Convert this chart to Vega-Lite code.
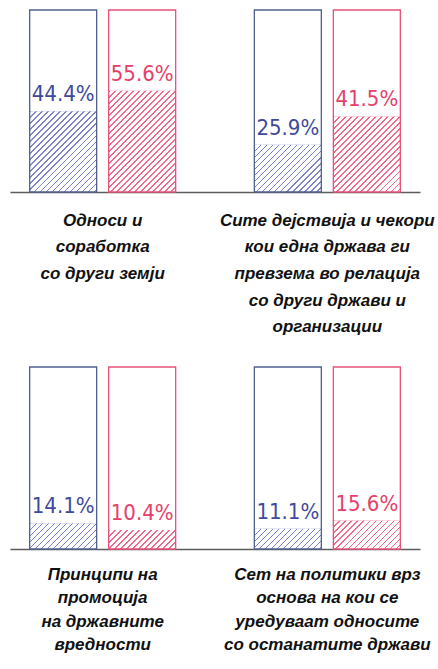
{
  "$schema": "https://vega.github.io/schema/vega-lite/v6.json",
  "padding": {"left": 10, "top": 9, "right": 0, "bottom": 0},
  "spacing": 175,
  "bounds": "flush",
  "config": {"view": {"stroke": null}},
  "data": {"values": [
    {"row": 1, "cat": "Односи и\nсоработка\nсо други земји", "series": "a", "value": 0.444},
    {"row": 1, "cat": "Односи и\nсоработка\nсо други земји", "series": "b", "value": 0.556},
    {"row": 1, "cat": "Сите дејствија и чекори\nкои една држава ги\nпревзема во релација\nсо други држави и\nорганизации", "series": "a", "value": 0.259},
    {"row": 1, "cat": "Сите дејствија и чекори\nкои една држава ги\nпревзема во релација\nсо други држави и\nорганизации", "series": "b", "value": 0.415},
    {"row": 2, "cat": "Принципи на\nпромоција\nна државните\nвредности", "series": "a", "value": 0.141},
    {"row": 2, "cat": "Принципи на\nпромоција\nна државните\nвредности", "series": "b", "value": 0.104},
    {"row": 2, "cat": "Сет на политики врз\nоснова на кои се\nуредуваат односите\nсо останатите држави", "series": "a", "value": 0.111},
    {"row": 2, "cat": "Сет на политики врз\nоснова на кои се\nуредуваат односите\nсо останатите држави", "series": "b", "value": 0.156}
  ]},
  "vconcat": [
    {
      "width": 410, "height": 182,
      "transform": [{"filter": "datum.row == 1"}],
      "encoding": {
        "x": {"field": "cat", "type": "nominal", "sort": null,
          "scale": {"paddingInner": 0.175, "paddingOuter": 0},
          "axis": {"title": null, "ticks": false, "domainColor": "#5c5c5c", "domainWidth": 1.6, "labelAngle": 0,
            "labelExpr": "split(datum.label, '\\n')", "labelFont": "Liberation Sans", "labelFontStyle": "italic",
            "labelFontWeight": "bold", "labelFontSize": 17, "labelColor": "#111", "labelLineHeight": 26.7,
            "labelPadding": 20, "labelLimit": 300, "labelOverlap": false, "labelBaseline": "top"}},
        "xOffset": {"field": "series", "type": "nominal", "sort": ["a", "b"],
          "scale": {"paddingInner": 0.152, "paddingOuter": 0.249}}
      },
      "layer": [
        {"mark": {"type": "bar", "strokeWidth": 0},
         "encoding": {
           "y": {"field": "value", "type": "quantitative", "scale": {"domain": [0, 1]}, "axis": null},
           "color": {"condition": {"test": "datum.series == 'a'", "value": "#7d85c6"}, "value": "#f06a8e"}}},
        {"mark": {"type": "bar", "strokeWidth": 0,
           "fill": {"expr": "{gradient:'linear',x1:0,y1:0,x2:174.3*67/(4489+pow(182*datum.value,2)),y2:174.3*182*datum.value/(4489+pow(182*datum.value,2)),stops:[{offset:0,color:'#fff0'},{offset:0.00966,color:'#fff0'},{offset:0.00966,color:'#fff'},{offset:0.03448,color:'#fff'},{offset:0.03448,color:'#fff0'},{offset:0.04414,color:'#fff0'},{offset:0.04414,color:'#fff'},{offset:0.06897,color:'#fff'},{offset:0.06897,color:'#fff0'},{offset:0.07862,color:'#fff0'},{offset:0.07862,color:'#fff'},{offset:0.10345,color:'#fff'},{offset:0.10345,color:'#fff0'},{offset:0.1131,color:'#fff0'},{offset:0.1131,color:'#fff'},{offset:0.13793,color:'#fff'},{offset:0.13793,color:'#fff0'},{offset:0.14759,color:'#fff0'},{offset:0.14759,color:'#fff'},{offset:0.17241,color:'#fff'},{offset:0.17241,color:'#fff0'},{offset:0.18207,color:'#fff0'},{offset:0.18207,color:'#fff'},{offset:0.2069,color:'#fff'},{offset:0.2069,color:'#fff0'},{offset:0.21655,color:'#fff0'},{offset:0.21655,color:'#fff'},{offset:0.24138,color:'#fff'},{offset:0.24138,color:'#fff0'},{offset:0.25103,color:'#fff0'},{offset:0.25103,color:'#fff'},{offset:0.27586,color:'#fff'},{offset:0.27586,color:'#fff0'},{offset:0.28552,color:'#fff0'},{offset:0.28552,color:'#fff'},{offset:0.31034,color:'#fff'},{offset:0.31034,color:'#fff0'},{offset:0.32,color:'#fff0'},{offset:0.32,color:'#fff'},{offset:0.34483,color:'#fff'},{offset:0.34483,color:'#fff0'},{offset:0.35448,color:'#fff0'},{offset:0.35448,color:'#fff'},{offset:0.37931,color:'#fff'},{offset:0.37931,color:'#fff0'},{offset:0.38897,color:'#fff0'},{offset:0.38897,color:'#fff'},{offset:0.41379,color:'#fff'},{offset:0.41379,color:'#fff0'},{offset:0.42345,color:'#fff0'},{offset:0.42345,color:'#fff'},{offset:0.44828,color:'#fff'},{offset:0.44828,color:'#fff0'},{offset:0.45793,color:'#fff0'},{offset:0.45793,color:'#fff'},{offset:0.48276,color:'#fff'},{offset:0.48276,color:'#fff0'},{offset:0.49241,color:'#fff0'},{offset:0.49241,color:'#fff'},{offset:0.51724,color:'#fff'},{offset:0.51724,color:'#fff0'},{offset:0.5269,color:'#fff0'},{offset:0.5269,color:'#fff'},{offset:0.55172,color:'#fff'},{offset:0.55172,color:'#fff0'},{offset:0.56138,color:'#fff0'},{offset:0.56138,color:'#fff'},{offset:0.58621,color:'#fff'},{offset:0.58621,color:'#fff0'},{offset:0.59586,color:'#fff0'},{offset:0.59586,color:'#fff'},{offset:0.62069,color:'#fff'},{offset:0.62069,color:'#fff0'},{offset:0.63034,color:'#fff0'},{offset:0.63034,color:'#fff'},{offset:0.65517,color:'#fff'},{offset:0.65517,color:'#fff0'},{offset:0.66483,color:'#fff0'},{offset:0.66483,color:'#fff'},{offset:0.68966,color:'#fff'},{offset:0.68966,color:'#fff0'},{offset:0.69931,color:'#fff0'},{offset:0.69931,color:'#fff'},{offset:0.72414,color:'#fff'},{offset:0.72414,color:'#fff0'},{offset:0.73379,color:'#fff0'},{offset:0.73379,color:'#fff'},{offset:0.75862,color:'#fff'},{offset:0.75862,color:'#fff0'},{offset:0.76828,color:'#fff0'},{offset:0.76828,color:'#fff'},{offset:0.7931,color:'#fff'},{offset:0.7931,color:'#fff0'},{offset:0.80276,color:'#fff0'},{offset:0.80276,color:'#fff'},{offset:0.82759,color:'#fff'},{offset:0.82759,color:'#fff0'},{offset:0.83724,color:'#fff0'},{offset:0.83724,color:'#fff'},{offset:0.86207,color:'#fff'},{offset:0.86207,color:'#fff0'},{offset:0.87172,color:'#fff0'},{offset:0.87172,color:'#fff'},{offset:0.89655,color:'#fff'},{offset:0.89655,color:'#fff0'},{offset:0.90621,color:'#fff0'},{offset:0.90621,color:'#fff'},{offset:0.93103,color:'#fff'},{offset:0.93103,color:'#fff0'},{offset:0.94069,color:'#fff0'},{offset:0.94069,color:'#fff'},{offset:0.96552,color:'#fff'},{offset:0.96552,color:'#fff0'},{offset:0.97517,color:'#fff0'},{offset:0.97517,color:'#fff'},{offset:1,color:'#fff'}]}"}},
         "encoding": {"y": {"field": "value", "type": "quantitative"}}},
        {"mark": {"type": "bar", "filled": false, "strokeWidth": 1.3},
         "encoding": {
           "y": {"datum": 1, "type": "quantitative"},
           "color": {"condition": {"test": "datum.series == 'a'", "value": "#50608e"}, "value": "#e8507a"}}},
        {"mark": {"type": "text", "baseline": "middle", "dy": -17, "font": "DejaVu Sans Condensed, Liberation Sans Narrow, Roboto, sans-serif", "fontSize": 22},
         "encoding": {
           "y": {"field": "value", "type": "quantitative"},
           "text": {"field": "value", "type": "quantitative", "format": ".1%"},
           "color": {"condition": {"test": "datum.series == 'a'", "value": "#3e4a9c"}, "value": "#e6406a"}}}
      ]
    },
    {
      "width": 410, "height": 182,
      "transform": [{"filter": "datum.row == 2"}],
      "encoding": {
        "x": {"field": "cat", "type": "nominal", "sort": null,
          "scale": {"paddingInner": 0.175, "paddingOuter": 0},
          "axis": {"title": null, "ticks": false, "domainColor": "#5c5c5c", "domainWidth": 1.6, "labelAngle": 0,
            "labelExpr": "split(datum.label, '\\n')", "labelFont": "Liberation Sans", "labelFontStyle": "italic",
            "labelFontWeight": "bold", "labelFontSize": 17, "labelColor": "#111", "labelLineHeight": 23.5,
            "labelPadding": 17, "labelLimit": 300, "labelOverlap": false, "labelBaseline": "top"}},
        "xOffset": {"field": "series", "type": "nominal", "sort": ["a", "b"],
          "scale": {"paddingInner": 0.152, "paddingOuter": 0.249}}
      },
      "layer": [
        {"mark": {"type": "bar", "strokeWidth": 0},
         "encoding": {
           "y": {"field": "value", "type": "quantitative", "scale": {"domain": [0, 1]}, "axis": null},
           "color": {"condition": {"test": "datum.series == 'a'", "value": "#7d85c6"}, "value": "#f06a8e"}}},
        {"mark": {"type": "bar", "strokeWidth": 0,
           "fill": {"expr": "{gradient:'linear',x1:0,y1:0,x2:174.3*67/(4489+pow(182*datum.value,2)),y2:174.3*182*datum.value/(4489+pow(182*datum.value,2)),stops:[{offset:0,color:'#fff0'},{offset:0.00966,color:'#fff0'},{offset:0.00966,color:'#fff'},{offset:0.03448,color:'#fff'},{offset:0.03448,color:'#fff0'},{offset:0.04414,color:'#fff0'},{offset:0.04414,color:'#fff'},{offset:0.06897,color:'#fff'},{offset:0.06897,color:'#fff0'},{offset:0.07862,color:'#fff0'},{offset:0.07862,color:'#fff'},{offset:0.10345,color:'#fff'},{offset:0.10345,color:'#fff0'},{offset:0.1131,color:'#fff0'},{offset:0.1131,color:'#fff'},{offset:0.13793,color:'#fff'},{offset:0.13793,color:'#fff0'},{offset:0.14759,color:'#fff0'},{offset:0.14759,color:'#fff'},{offset:0.17241,color:'#fff'},{offset:0.17241,color:'#fff0'},{offset:0.18207,color:'#fff0'},{offset:0.18207,color:'#fff'},{offset:0.2069,color:'#fff'},{offset:0.2069,color:'#fff0'},{offset:0.21655,color:'#fff0'},{offset:0.21655,color:'#fff'},{offset:0.24138,color:'#fff'},{offset:0.24138,color:'#fff0'},{offset:0.25103,color:'#fff0'},{offset:0.25103,color:'#fff'},{offset:0.27586,color:'#fff'},{offset:0.27586,color:'#fff0'},{offset:0.28552,color:'#fff0'},{offset:0.28552,color:'#fff'},{offset:0.31034,color:'#fff'},{offset:0.31034,color:'#fff0'},{offset:0.32,color:'#fff0'},{offset:0.32,color:'#fff'},{offset:0.34483,color:'#fff'},{offset:0.34483,color:'#fff0'},{offset:0.35448,color:'#fff0'},{offset:0.35448,color:'#fff'},{offset:0.37931,color:'#fff'},{offset:0.37931,color:'#fff0'},{offset:0.38897,color:'#fff0'},{offset:0.38897,color:'#fff'},{offset:0.41379,color:'#fff'},{offset:0.41379,color:'#fff0'},{offset:0.42345,color:'#fff0'},{offset:0.42345,color:'#fff'},{offset:0.44828,color:'#fff'},{offset:0.44828,color:'#fff0'},{offset:0.45793,color:'#fff0'},{offset:0.45793,color:'#fff'},{offset:0.48276,color:'#fff'},{offset:0.48276,color:'#fff0'},{offset:0.49241,color:'#fff0'},{offset:0.49241,color:'#fff'},{offset:0.51724,color:'#fff'},{offset:0.51724,color:'#fff0'},{offset:0.5269,color:'#fff0'},{offset:0.5269,color:'#fff'},{offset:0.55172,color:'#fff'},{offset:0.55172,color:'#fff0'},{offset:0.56138,color:'#fff0'},{offset:0.56138,color:'#fff'},{offset:0.58621,color:'#fff'},{offset:0.58621,color:'#fff0'},{offset:0.59586,color:'#fff0'},{offset:0.59586,color:'#fff'},{offset:0.62069,color:'#fff'},{offset:0.62069,color:'#fff0'},{offset:0.63034,color:'#fff0'},{offset:0.63034,color:'#fff'},{offset:0.65517,color:'#fff'},{offset:0.65517,color:'#fff0'},{offset:0.66483,color:'#fff0'},{offset:0.66483,color:'#fff'},{offset:0.68966,color:'#fff'},{offset:0.68966,color:'#fff0'},{offset:0.69931,color:'#fff0'},{offset:0.69931,color:'#fff'},{offset:0.72414,color:'#fff'},{offset:0.72414,color:'#fff0'},{offset:0.73379,color:'#fff0'},{offset:0.73379,color:'#fff'},{offset:0.75862,color:'#fff'},{offset:0.75862,color:'#fff0'},{offset:0.76828,color:'#fff0'},{offset:0.76828,color:'#fff'},{offset:0.7931,color:'#fff'},{offset:0.7931,color:'#fff0'},{offset:0.80276,color:'#fff0'},{offset:0.80276,color:'#fff'},{offset:0.82759,color:'#fff'},{offset:0.82759,color:'#fff0'},{offset:0.83724,color:'#fff0'},{offset:0.83724,color:'#fff'},{offset:0.86207,color:'#fff'},{offset:0.86207,color:'#fff0'},{offset:0.87172,color:'#fff0'},{offset:0.87172,color:'#fff'},{offset:0.89655,color:'#fff'},{offset:0.89655,color:'#fff0'},{offset:0.90621,color:'#fff0'},{offset:0.90621,color:'#fff'},{offset:0.93103,color:'#fff'},{offset:0.93103,color:'#fff0'},{offset:0.94069,color:'#fff0'},{offset:0.94069,color:'#fff'},{offset:0.96552,color:'#fff'},{offset:0.96552,color:'#fff0'},{offset:0.97517,color:'#fff0'},{offset:0.97517,color:'#fff'},{offset:1,color:'#fff'}]}"}},
         "encoding": {"y": {"field": "value", "type": "quantitative"}}},
        {"mark": {"type": "bar", "filled": false, "strokeWidth": 1.3},
         "encoding": {
           "y": {"datum": 1, "type": "quantitative"},
           "color": {"condition": {"test": "datum.series == 'a'", "value": "#50608e"}, "value": "#e8507a"}}},
        {"mark": {"type": "text", "baseline": "middle", "dy": -17, "font": "DejaVu Sans Condensed, Liberation Sans Narrow, Roboto, sans-serif", "fontSize": 22},
         "encoding": {
           "y": {"field": "value", "type": "quantitative"},
           "text": {"field": "value", "type": "quantitative", "format": ".1%"},
           "color": {"condition": {"test": "datum.series == 'a'", "value": "#3e4a9c"}, "value": "#e6406a"}}}
      ]
    }
  ]
}
